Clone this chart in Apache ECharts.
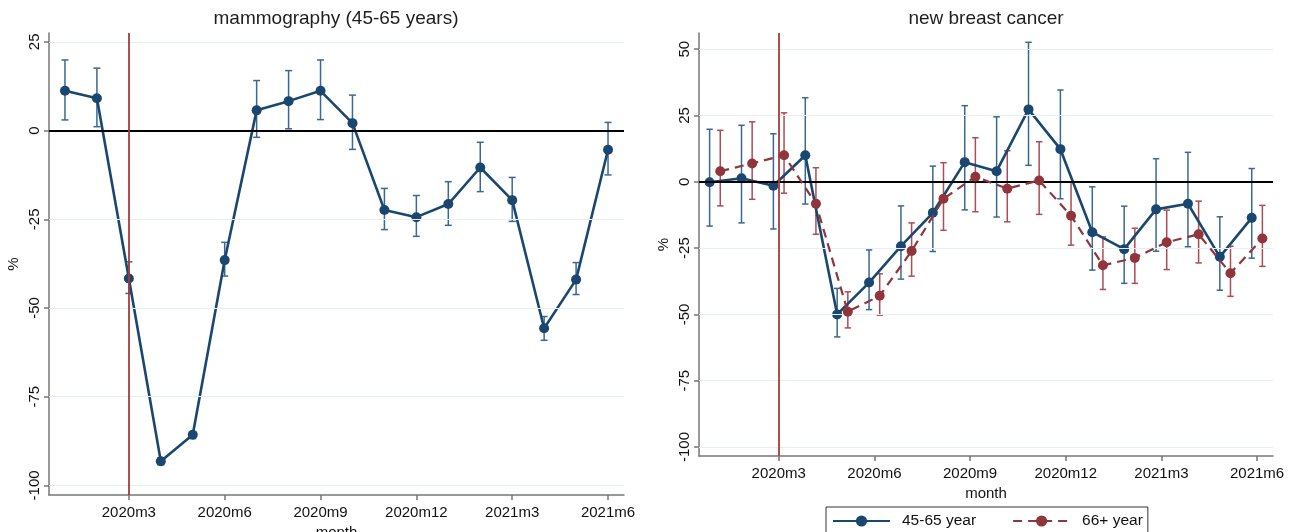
<!DOCTYPE html>
<html>
<head>
<meta charset="utf-8">
<script src="https://cdn.jsdelivr.net/npm/echarts@6/dist/echarts.min.js"></script>
<style>
html,body{margin:0;padding:0;background:#fff;}
#chart{width:1295px;height:532px;}
</style>
</head>
<body>
<div id="chart"></div>
<script>
// ---------- data ----------
const months = ['2020m1','2020m2','2020m3','2020m4','2020m5','2020m6','2020m7','2020m8','2020m9',
  '2020m10','2020m11','2020m12','2021m1','2021m2','2021m3','2021m4','2021m5','2021m6'];
const tickLabels = ['2020m3','2020m6','2020m9','2020m12','2021m3','2021m6'];
const eventMonth = '2020m3';
const yTicksLeft = [-100,-75,-50,-25,0,25];
const yTicksRight = [-100,-75,-50,-25,0,25,50];

// mammography (45-65 years): estimate, lower CI, upper CI
const mammo   = [11.2, 9.1, -41.7, -93.2, -85.7, -36.5, 5.7, 8.3, 11.2, 2.1, -22.4, -24.4, -20.7, -10.4, -19.6, -55.7, -42.0, -5.4];
const mammoLo = [3.0, 1.1, -45.9, -94.2, -86.8, -41.0, -1.9, 0.5, 3.1, -5.3, -27.9, -29.8, -26.7, -17.2, -25.6, -59.1, -46.2, -12.5];
const mammoHi = [19.9, 17.6, -37.0, -92.2, -84.9, -31.5, 14.1, 16.9, 19.9, 10.0, -16.3, -18.3, -14.4, -3.3, -13.2, -52.4, -37.2, 2.3];

// new breast cancer, 45-65 year
const cancerYoung   = [-0.2, 1.3, -1.5, 10.0, -50.0, -38.0, -24.3, -11.7, 7.4, 4.0, 27.3, 12.3, -19.0, -25.4, -10.4, -8.3, -28.3, -13.6];
const cancerYoungLo = [-16.7, -15.5, -17.8, -8.4, -58.5, -48.2, -36.7, -26.3, -10.6, -13.3, 6.2, -6.4, -33.3, -38.3, -26.2, -24.5, -40.9, -28.8];
const cancerYoungHi = [19.8, 21.3, 18.1, 31.7, -40.2, -25.7, -9.1, 5.9, 28.7, 24.5, 52.6, 34.6, -1.9, -9.2, 8.7, 11.1, -13.2, 5.0];

// new breast cancer, 66+ year
const cancerOld   = [4.0, 6.9, 10.0, -8.3, -49.0, -43.0, -26.1, -6.4, 1.9, -2.6, 0.5, -12.8, -31.5, -28.7, -22.8, -19.8, -34.5, -21.4];
const cancerOldLo = [-9.1, -6.6, -4.3, -19.8, -55.1, -50.3, -35.6, -18.3, -11.3, -15.1, -12.3, -23.9, -40.6, -38.3, -33.1, -30.6, -43.2, -31.9];
const cancerOldHi = [19.4, 22.6, 26.0, 5.3, -41.5, -34.7, -15.5, 7.2, 16.6, 11.7, 15.1, 0.0, -20.8, -17.5, -10.7, -7.3, -24.3, -8.9];

// ---------- helpers ----------
const NAVY = '#1a476f', NAVY_CI = '#3a6893';
const MAROON = '#90353b', MAROON_CI = '#ad4c53';
const FONT = 'Liberation Sans, Arial, sans-serif';
const pos = m => months.indexOf(m) + 1;
const tickPos = tickLabels.map(pos);
const shift = 0.167; // small horizontal dodge between the two age groups

function pts(vals, dx) { return vals.map((v, i) => [i + 1 + dx, v]); }
function ci(lo, hi, dx) { return lo.map((l, i) => [i + 1 + dx, l, hi[i]]); }

function errBar(color, capHalf) {
  return function (params, api) {
    const x = api.value(0);
    const a = api.coord([x, api.value(1)]);
    const b = api.coord([x, api.value(2)]);
    const st = { stroke: color, lineWidth: 1.5 };
    return { type: 'group', children: [
      { type: 'line', shape: { x1: a[0], y1: a[1], x2: b[0], y2: b[1] }, style: st },
      { type: 'line', shape: { x1: a[0] - capHalf, y1: a[1], x2: a[0] + capHalf, y2: a[1] }, style: st },
      { type: 'line', shape: { x1: b[0] - capHalf, y1: b[1], x2: b[0] + capHalf, y2: b[1] }, style: st }
    ]};
  };
}

function xAxisCfg(gridIndex) {
  return {
    gridIndex, type: 'value', min: 0.5, max: 18.5,
    name: 'month', nameLocation: 'middle', nameGap: 25,
    nameTextStyle: { fontFamily: FONT, fontSize: 15, color: '#111' },
    axisLine: { show: true, onZero: false, lineStyle: { color: '#777', width: 1.5 } },
    axisTick: { show: true, length: 5, customValues: tickPos, lineStyle: { color: '#777', width: 1.5 } },
    axisLabel: { customValues: tickPos, margin: 10, fontFamily: FONT, fontSize: 15, color: '#111',
      formatter: v => months[Math.round(v) - 1] },
    splitLine: { show: false }
  };
}
function yAxisCfg(gridIndex, min, max, ticks) {
  return {
    gridIndex, type: 'value', min, max,
    name: '%', nameLocation: 'middle', nameGap: 28, nameRotate: 90,
    nameTextStyle: { fontFamily: FONT, fontSize: 15, color: '#111' },
    axisLine: { show: true, onZero: false, lineStyle: { color: '#777', width: 1.5 } },
    axisTick: { show: true, length: 5, customValues: ticks, lineStyle: { color: '#777', width: 1.5 } },
    axisLabel: { customValues: ticks, rotate: 90, margin: 7, fontFamily: FONT, fontSize: 15, color: '#111' },
    splitLine: { show: false }
  };
}
function refLines(idx, ticks) {
  return {
    type: 'line', xAxisIndex: idx, yAxisIndex: idx, data: [], z: 1, silent: true,
    markLine: {
      silent: true, symbol: 'none', animation: false, label: { show: false },
      data: ticks.filter(t => t !== 0).map(t => ({ yAxis: t, lineStyle: { color: '#e6eff6', width: 1.2, type: 'solid' } }))
        .concat([{ yAxis: 0, lineStyle: { color: '#000', width: 2, type: 'solid' } }])
    }
  };
}
function eventLine(idx) {
  return {
    type: 'line', xAxisIndex: idx, yAxisIndex: idx, data: [], z: 2, silent: true,
    markLine: {
      silent: true, symbol: 'none', animation: false, label: { show: false },
      data: [{ xAxis: pos(eventMonth), lineStyle: { color: '#a83a3a', width: 1.8, type: 'solid' } }]
    }
  };
}

const option = {
  animation: false,
  backgroundColor: '#fff',
  title: [
    { text: 'mammography (45-65 years)', left: 336, top: 9, textAlign: 'center', padding: 0,
      textStyle: { fontFamily: FONT, fontSize: 19, fontWeight: 'normal', color: '#1e1e1e' } },
    { text: 'new breast cancer', left: 986, top: 9, textAlign: 'center', padding: 0,
      textStyle: { fontFamily: FONT, fontSize: 19, fontWeight: 'normal', color: '#1e1e1e' } }
  ],
  grid: [
    { left: 49, top: 33, width: 575, height: 462, outerBoundsMode: 'none', containLabel: false },
    { left: 699, top: 33, width: 574, height: 423, outerBoundsMode: 'none', containLabel: false }
  ],
  legend: {
    data: ['45-65 year', '66+ year'],
    left: 826, top: 507, orient: 'horizontal',
    padding: [6, 5, 6, 6], itemWidth: 57, itemHeight: 14, itemGap: 36,
    borderColor: '#333', borderWidth: 1,
    textStyle: { fontFamily: FONT, fontSize: 15.5, color: '#111', padding: [0, 0, 0, 7] }
  },
  xAxis: [xAxisCfg(0), xAxisCfg(1)],
  yAxis: [yAxisCfg(0, -102.7, 27.5, yTicksLeft), yAxisCfg(1, -103.4, 56.1, yTicksRight)],
  series: [
    refLines(0, yTicksLeft),
    refLines(1, yTicksRight),
    eventLine(0),
    eventLine(1),
    { type: 'custom', name: 'mammoCI', xAxisIndex: 0, yAxisIndex: 0, z: 3, silent: true,
      renderItem: errBar(NAVY_CI, 3.5), data: ci(mammoLo, mammoHi, 0) },
    { type: 'custom', name: 'youngCI', xAxisIndex: 1, yAxisIndex: 1, z: 3, silent: true,
      renderItem: errBar(NAVY_CI, 3.2), data: ci(cancerYoungLo, cancerYoungHi, -shift) },
    { type: 'custom', name: 'oldCI', xAxisIndex: 1, yAxisIndex: 1, z: 3, silent: true,
      renderItem: errBar(MAROON_CI, 3.2), data: ci(cancerOldLo, cancerOldHi, shift) },
    { type: 'line', name: 'mammography', xAxisIndex: 0, yAxisIndex: 0, z: 4,
      data: pts(mammo, 0), symbol: 'circle', symbolSize: 10,
      lineStyle: { color: NAVY, width: 2.6 }, itemStyle: { color: NAVY } },
    { type: 'line', name: '45-65 year', xAxisIndex: 1, yAxisIndex: 1, z: 4,
      data: pts(cancerYoung, -shift), symbol: 'circle', symbolSize: 10,
      lineStyle: { color: NAVY, width: 2.6 }, itemStyle: { color: NAVY } },
    { type: 'line', name: '66+ year', xAxisIndex: 1, yAxisIndex: 1, z: 5,
      data: pts(cancerOld, shift), symbol: 'circle', symbolSize: 10,
      lineStyle: { color: MAROON, width: 2.2, type: [9, 6] }, itemStyle: { color: MAROON } }
  ]
};

const chart = echarts.init(document.getElementById('chart'), null, { renderer: 'canvas' });
chart.setOption(option);
</script>
</body>
</html>
